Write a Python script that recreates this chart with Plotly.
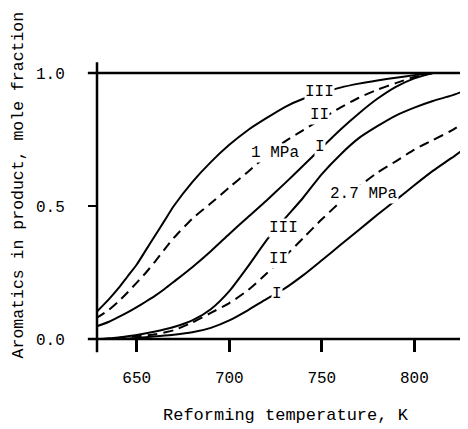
import plotly.graph_objects as go

# 1 MPa curves (same temperature grid)
temp_1mpa = [628, 635, 640, 645, 650, 655, 660, 665, 670, 680, 690, 700,
             710, 720, 730, 740, 750, 760, 770, 780, 790, 800, 810]
arom_1mpa_III = [0.10, 0.15, 0.19, 0.235, 0.28, 0.335, 0.39, 0.445, 0.50, 0.59, 0.665, 0.73,
                 0.785, 0.83, 0.872, 0.903, 0.925, 0.945, 0.96, 0.972, 0.982, 0.992, 1.0]
arom_1mpa_II = [0.078, 0.11, 0.14, 0.175, 0.212, 0.25, 0.292, 0.337, 0.38, 0.452, 0.51, 0.57,
                0.628, 0.688, 0.742, 0.785, 0.828, 0.87, 0.907, 0.937, 0.962, 0.985, 1.0]
arom_1mpa_I = [0.047, 0.065, 0.082, 0.10, 0.12, 0.141, 0.163, 0.188, 0.215, 0.27, 0.33, 0.395,
               0.458, 0.52, 0.585, 0.652, 0.72, 0.787, 0.848, 0.903, 0.948, 0.98, 1.0]

# 2.7 MPa curves
temp_27_III = [632, 640, 650, 660, 670, 680, 690, 700, 710, 720, 730,
               740, 750, 760, 770, 780, 790, 800, 810, 820, 826]
arom_27_III = [0.0, 0.006, 0.015, 0.028, 0.045, 0.07, 0.112, 0.18, 0.272, 0.37, 0.452,
               0.532, 0.62, 0.693, 0.755, 0.80, 0.84, 0.87, 0.895, 0.915, 0.93]
temp_27_II = [630, 640, 650, 660, 670, 680, 690, 700, 710, 720, 730,
              740, 750, 760, 770, 780, 790, 800, 810, 820, 826]
arom_27_II = [0.0, 0.004, 0.01, 0.018, 0.033, 0.062, 0.098, 0.135, 0.183, 0.245, 0.31,
              0.38, 0.45, 0.515, 0.573, 0.625, 0.668, 0.712, 0.748, 0.783, 0.81]
temp_27_I = [638, 650, 660, 670, 680, 690, 700, 710, 720, 730,
             740, 750, 760, 770, 780, 790, 800, 810, 820, 826]
arom_27_I = [0.0, 0.004, 0.01, 0.016, 0.025, 0.042, 0.07, 0.108, 0.15, 0.19,
             0.24, 0.296, 0.353, 0.41, 0.467, 0.522, 0.578, 0.632, 0.68, 0.71]

# curve labels: text, temperature, fraction
label_text = ["III", "II", "I", "1 MPa", "2.7 MPa", "III", "II", "I"]
label_temp = [749, 748.7, 749, 724.8, 772.6, 729.3, 726.6, 725.7]
label_frac = [0.929, 0.841, 0.722, 0.70, 0.544, 0.419, 0.30, 0.169]

x_ticks = [650, 700, 750, 800]
y_ticks = [0.0, 0.5, 1.0]
y_tick_text = ["0.0", "0.5", "1.0"]

FONT = "Liberation Mono"

curves = [
    (temp_1mpa, arom_1mpa_III, "solid"),
    (temp_1mpa, arom_1mpa_II, "10px,6px"),
    (temp_1mpa, arom_1mpa_I, "solid"),
    (temp_27_III, arom_27_III, "solid"),
    (temp_27_II, arom_27_II, "10px,6px"),
    (temp_27_I, arom_27_I, "solid"),
]

fig = go.Figure()
for xs, ys, dash in curves:
    fig.add_trace(go.Scatter(
        x=xs, y=ys, mode="lines", line_shape="spline",
        line=dict(color="black", width=2, dash=dash, smoothing=0.6),
        showlegend=False, hoverinfo="skip"
    ))

for txt, t, f in zip(label_text, label_temp, label_frac):
    fig.add_annotation(
        x=t, y=f, text=txt, showarrow=False,
        font=dict(family=FONT, size=16, color="black"),
        bgcolor="white", borderpad=0
    )

# frame lines, slightly extended like the original drawing
frame = dict(color="black", width=2.5)
fig.add_shape(type="line", xref="paper", yref="paper", x0=0, x1=0, y0=-0.05, y1=1.04, line=frame)
fig.add_shape(type="line", xref="paper", yref="paper", x0=1, x1=1, y0=-0.05, y1=1.04, line=frame)
fig.add_shape(type="line", xref="paper", yref="paper", x0=-0.025, x1=1.02, y0=0, y1=0, line=frame)
fig.add_shape(type="line", xref="paper", yref="paper", x0=-0.025, x1=1.0, y0=1, y1=1, line=frame)

fig.add_annotation(
    xref="paper", yref="paper", x=-0.212, y=0.579,
    xanchor="center", yanchor="middle",
    text="Aromatics in product, mole fraction", textangle=-90, showarrow=False,
    font=dict(family=FONT, size=16.5, color="black")
)
fig.add_annotation(
    xref="paper", yref="paper", x=0.516, y=-0.286,
    xanchor="center", yanchor="middle",
    text="Reforming temperature, K", showarrow=False,
    font=dict(family=FONT, size=17, color="black")
)

fig.update_xaxes(
    range=[628.5, 826.3], tickvals=x_ticks, ticks="outside", ticklen=12,
    tickwidth=2.5, tickcolor="black", showgrid=False, zeroline=False,
    showline=False, ticklabelstandoff=12,
    tickfont=dict(family=FONT, size=16, color="black")
)
fig.update_yaxes(
    range=[0, 1], tickvals=y_ticks, ticktext=y_tick_text, ticks="outside", ticklen=8,
    tickwidth=2, tickcolor="black", showgrid=False, zeroline=False,
    showline=False, ticklabelstandoff=20,
    tickfont=dict(family=FONT, size=16, color="black")
)
# page body adds 8px around the figure, so the figure is a bit smaller
fig.update_layout(
    width=460, height=421,
    plot_bgcolor="white", paper_bgcolor="white",
    margin=dict(l=89, r=5, t=65, b=90)
)

fig.write_html("out.html")
